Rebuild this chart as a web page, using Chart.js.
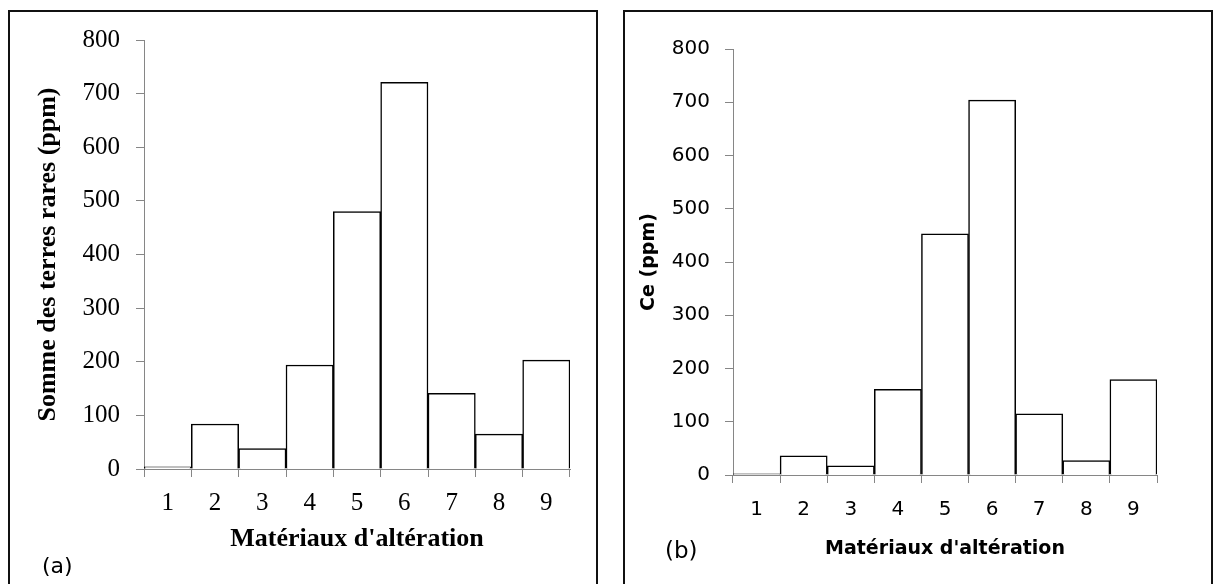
<!DOCTYPE html>
<html>
<head>
<meta charset="utf-8">
<script src="https://cdn.jsdelivr.net/npm/chart.js@4/dist/chart.umd.min.js"></script>
<style>
  html, body { margin: 0; padding: 0; background: #fff; }
  body { width: 1221px; height: 584px; position: relative; overflow: hidden; }
  .panel { position: absolute; border: 2px solid #111; box-sizing: border-box; }
  #panelA { left: 8px; top: 10px; width: 590px; height: 600px; }
  #panelB { left: 623px; top: 10px; width: 590px; height: 600px; }
  .wrap { position: absolute; top: 0; height: 584px; }
  #wrapA { left: 0; width: 610px; }
  #wrapB { left: 610px; width: 611px; }
  .tag { position: absolute; font-family: 'DejaVu Sans', sans-serif; font-size: 22px; color: #000; }
  #tagA { left: 42px; top: 553px; }
  #tagB { left: 665px; top: 537px; font-size: 23px; }
</style>
</head>
<body>
<div class="panel" id="panelA"></div>
<div class="panel" id="panelB"></div>
<div class="wrap" id="wrapA"><canvas id="chartA"></canvas></div>
<div class="wrap" id="wrapB"><canvas id="chartB"></canvas></div>
<div class="tag" id="tagA">(a)</div>
<div class="tag" id="tagB">(b)</div>
<script>
// Data
const categories = ['1', '2', '3', '4', '5', '6', '7', '8', '9'];
const sommeTR = [4, 84, 38, 194, 480, 721, 141, 65, 203];   // (a) Somme des terres rares (ppm)
const ceValues = [2, 36, 17, 161, 453, 704, 115, 27, 179];  // (b) Ce (ppm)
const yMin = 0, yMax = 800, yStep = 100;

const axisGrey = '#868686';

function makeChart(id, values, o) {
    const ctx = document.getElementById(id).getContext('2d');
    return new Chart(ctx, {
        type: 'bar',
        data: {
            labels: categories,
            datasets: [{
                data: values,
                backgroundColor: '#ffffff',
                borderColor: '#000000',
                borderWidth: 1.5,
                barPercentage: 1,
                categoryPercentage: 1
            }]
        },
        options: {
            responsive: true,
            maintainAspectRatio: false,
            animation: false,
            layout: { padding: o.padding },
            plugins: { legend: { display: false }, tooltip: { enabled: false } },
            scales: {
                x: {
                    grid: { display: true, drawOnChartArea: false, tickLength: 8, color: axisGrey, offset: true },
                    border: { color: axisGrey, width: 1 },
                    ticks: { color: '#000', font: { family: o.family, size: o.tickSize }, padding: o.xTickPad },
                    title: { display: true, text: "Matériaux d'altération", color: '#000',
                             font: { family: o.family, size: o.titleSize, weight: 'bold' }, padding: 0 },
                    afterFit: s => { s.height = o.xHeight; }
                },
                y: {
                    min: yMin, max: yMax,
                    grid: { display: true, drawOnChartArea: false, tickLength: 8, color: axisGrey },
                    border: { color: axisGrey, width: 1 },
                    ticks: { stepSize: yStep, color: '#000', font: { family: o.family, size: o.tickSize }, padding: o.yTickPad },
                    title: { display: true, text: o.yTitle, color: '#000',
                             font: { family: o.family, size: o.titleSize, weight: 'bold' }, padding: 0 },
                    afterFit: s => { s.width = o.yWidth; }
                }
            }
        }
    });
}

makeChart('chartA', sommeTR, {
    family: "'Liberation Serif', 'Times New Roman', serif",
    tickSize: 25, titleSize: 26,
    yTitle: 'Somme des terres rares (ppm)',
    padding: { top: 40, right: 40, left: 33, bottom: 29 },
    yWidth: 111, xHeight: 86,
    xTickPad: 11, yTickPad: 16
});

makeChart('chartB', ceValues, {
    family: "'DejaVu Sans', sans-serif",
    tickSize: 20, titleSize: 19,
    yTitle: 'Ce (ppm)',
    padding: { top: 49, right: 64, left: 28, bottom: 24 },
    yWidth: 95, xHeight: 85,
    xTickPad: 15, yTickPad: 15
});
</script>
</body>
</html>
